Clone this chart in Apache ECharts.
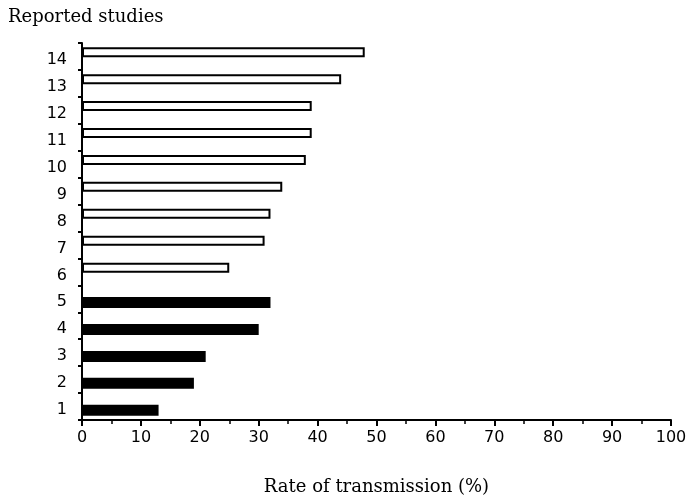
<!DOCTYPE html>
<html>
<head>
<meta charset="utf-8">
<script src="https://cdn.jsdelivr.net/npm/echarts@6/dist/echarts.min.js"></script>
<style>html,body{margin:0;padding:0;background:#fff}#c{width:694px;height:501px}</style>
</head>
<body>
<div id="c"></div>
<script>
const studies = ['1','2','3','4','5','6','7','8','9','10','11','12','13','14'];
const openBarValues  = [null, null, null, null, null, 25, 31, 32, 34, 38, 39, 39, 44, 48];
const solidBarValues = [13, 19, 21, 30, 32, null, null, null, null, null, null, null, null, null];
const xTicks = [0, 10, 20, 30, 40, 50, 60, 70, 80, 90, 100];

const chart = echarts.init(document.getElementById('c'));
chart.setOption({
  animation: false,
  backgroundColor: '#fff',
  title: {
    text: 'Reported studies',
    left: 3, top: 3,
    textStyle: { fontFamily: 'DejaVu Serif', fontSize: 18, fontWeight: 'normal', color: '#000' }
  },
  grid: { left: 82, right: 23, top: 43, bottom: 81 },
  xAxis: {
    type: 'value',
    min: xTicks[0], max: xTicks[xTicks.length - 1], interval: 10,
    name: 'Rate of transmission (%)',
    nameLocation: 'middle', nameGap: 58,
    nameTextStyle: { fontFamily: 'DejaVu Serif', fontSize: 18, color: '#000' },
    axisLine: { show: true, lineStyle: { color: '#000', width: 2 } },
    axisTick: { show: true, length: 6, lineStyle: { color: '#000', width: 2 } },
    minorTick: { show: true, splitNumber: 2, length: 4, lineStyle: { color: '#000', width: 1.5 } },
    splitLine: { show: false },
    axisLabel: { fontFamily: 'DejaVu Sans', fontSize: 16, color: '#000', margin: 10 }
  },
  yAxis: {
    type: 'category',
    data: studies,
    axisLine: { show: true, lineStyle: { color: '#000', width: 2 } },
    axisTick: { show: true, length: 4, lineStyle: { color: '#000', width: 2 } },
    axisLabel: {
      margin: 15,
      formatter: '{a|{value}}',
      rich: { a: { fontFamily: 'DejaVu Sans', fontSize: 16, color: '#000', padding: [7, 0, 0, 0] } }
    }
  },
  series: [
    {
      type: 'bar', data: openBarValues, barWidth: 10, barGap: '-25%',
      itemStyle: { color: '#fff', borderColor: '#000', borderWidth: 2 }
    },
    {
      type: 'bar', data: solidBarValues, barWidth: 11,
      itemStyle: { color: '#000' }
    }
  ]
});
</script>
</body>
</html>
